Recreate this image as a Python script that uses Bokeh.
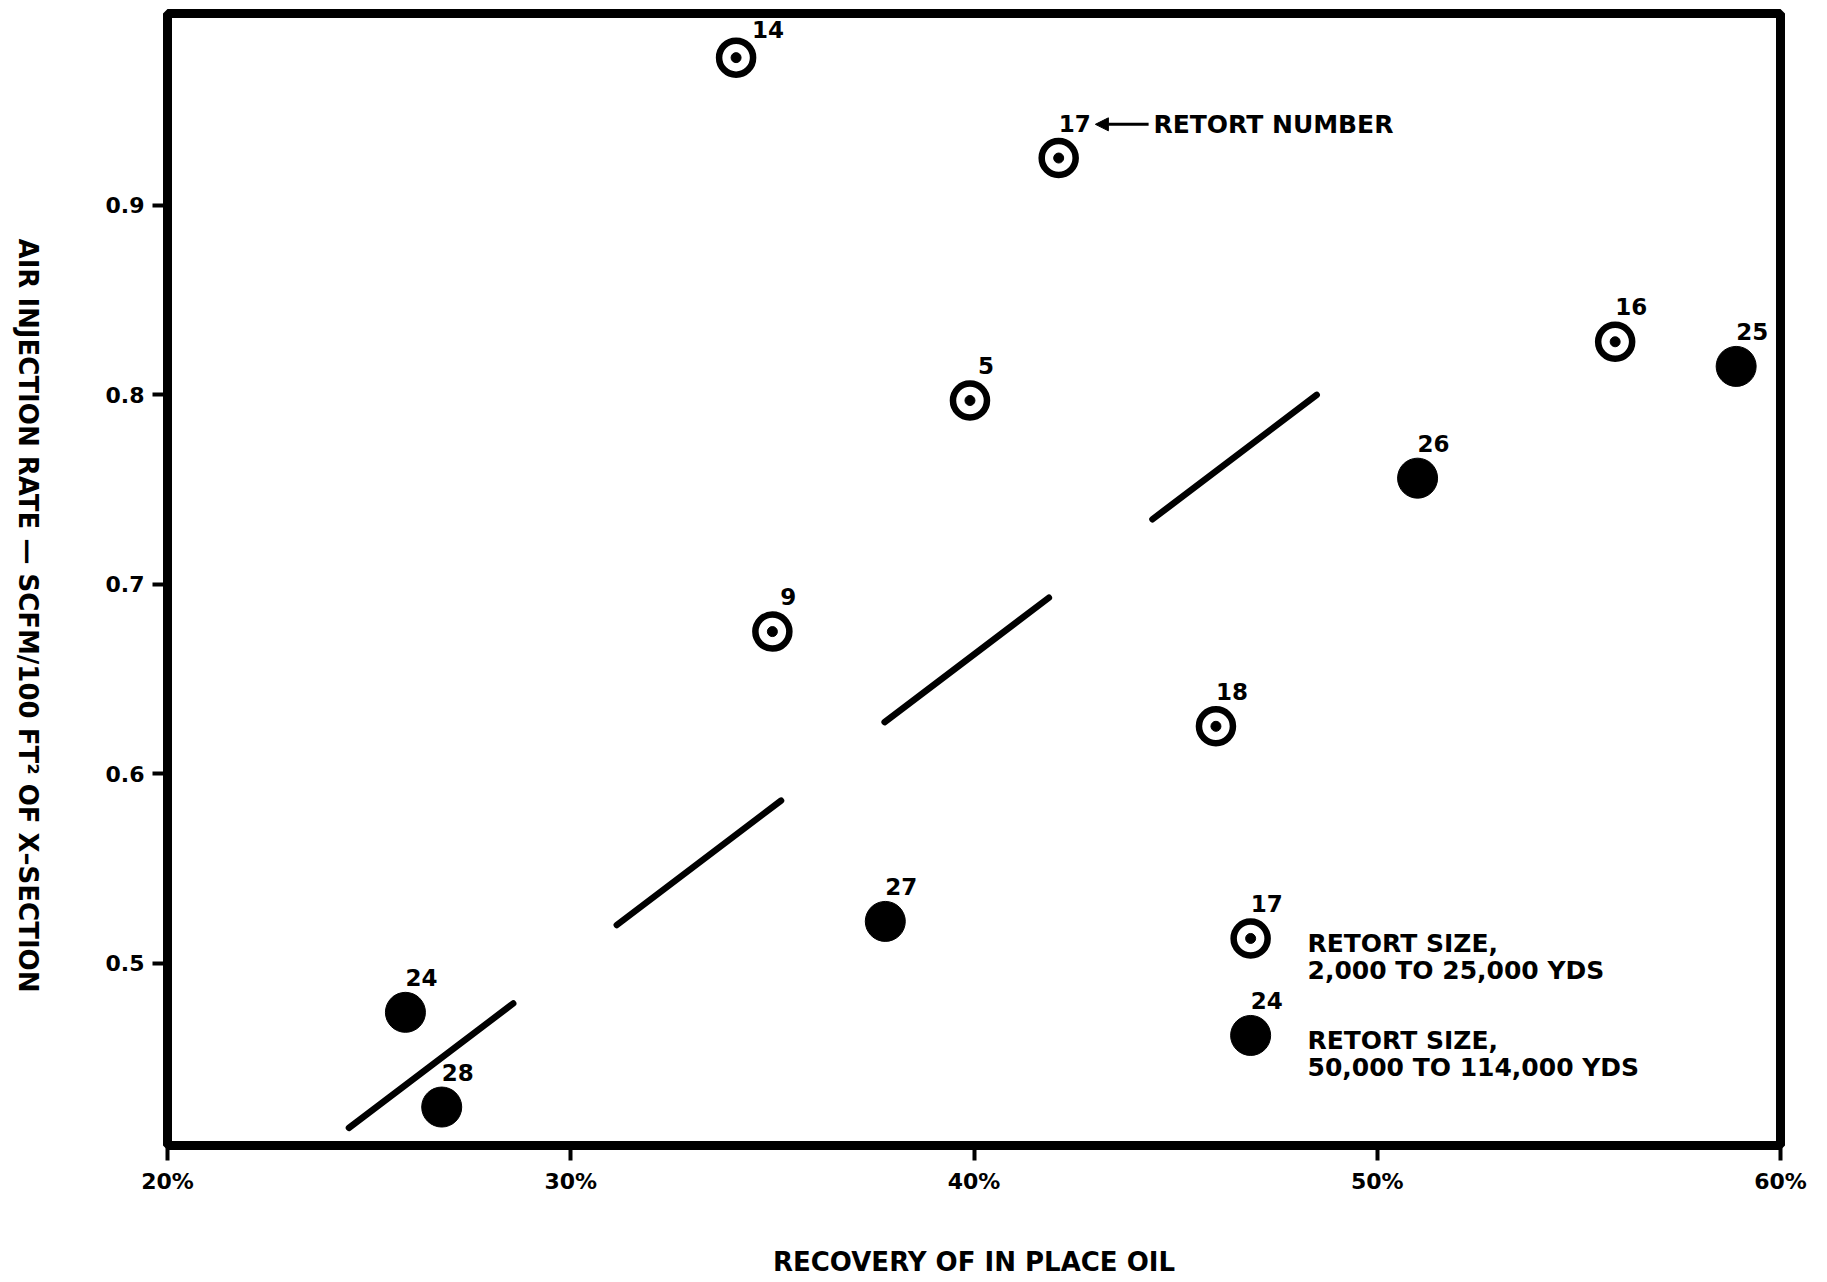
import math
from bokeh.plotting import figure
from bokeh.layouts import row
from bokeh.models import ColumnDataSource, Range1d, FixedTicker, Label, Arrow, NormalHead
from bokeh.core.properties import value
from bokeh.embed import file_html
from bokeh.resources import INLINE

# ---------------- data ----------------
# retorts of 2,000 to 25,000 yds (open bullseye markers)
small_retort = ["14", "17", "5", "9", "18", "16"]
small_recovery = [34.1, 42.1, 39.9, 35.0, 46.0, 55.9]      # % of in-place oil
small_air = [0.978, 0.925, 0.797, 0.675, 0.625, 0.828]     # SCFM/100 ft2

# retorts of 50,000 to 114,000 yds (filled markers)
large_retort = ["25", "26", "27", "24", "28"]
large_recovery = [58.9, 51.0, 37.8, 25.9, 26.8]
large_air = [0.815, 0.756, 0.522, 0.474, 0.424]

# dashed trend line
trend_recovery = [24.5, 48.5]
trend_air = [0.413, 0.800]

x_ticks = [20, 30, 40, 50, 60]
x_tick_labels = ["20%", "30%", "40%", "50%", "60%"]
y_ticks = [0.5, 0.6, 0.7, 0.8, 0.9]
y_tick_labels = ["0.5", "0.6", "0.7", "0.8", "0.9"]

legend_retort = ["17", "24"]
legend_lines = [["RETORT SIZE,", "2,000 TO 25,000 YDS"],
                ["RETORT SIZE,", "50,000 TO 114,000 YDS"]]

x_title = "RECOVERY OF IN PLACE OIL"
y_title = "AIR INJECTION RATE \u2014 SCFM/100 FT\u00b2 OF X\u2013SECTION"
pointer_text = "RETORT NUMBER"

# ---------------- styling ----------------
FONT = "DejaVu Sans"
INK = "black"
RING_SIZE, RING_W, DOT_SIZE, DISC_SIZE = 34, 6.5, 10, 40
NUM_FONT = "23px"
LBL_DX, LBL_DY = 16, -35
LBL_OVERRIDE = {"14": (32, -28)}
Y_MIN, Y_MAX = 0.4037, 1.0013
TITLE_W = 60
FIG_H = 13 + 1132 + 135

p = figure(
    frame_width=1613, frame_height=1132,
    min_border_left=167 - TITLE_W, min_border_right=35, min_border_top=13,
    min_border_bottom=135,
    x_range=Range1d(20, 60), y_range=Range1d(Y_MIN, Y_MAX),
    output_backend="svg", toolbar_location=None,
    background_fill_color="white", border_fill_color="white",
)
p.grid.visible = False
p.outline_line_color = INK
p.outline_line_width = 9

for ax in (p.xaxis[0], p.yaxis[0]):
    ax.axis_line_color = None
    ax.major_tick_line_color = INK
    ax.major_tick_line_width = 4
    ax.major_tick_in = 0
    ax.major_tick_out = 15
    ax.minor_tick_line_color = None
    ax.major_label_text_font = FONT
    ax.major_label_text_font_style = "bold"
    ax.major_label_text_font_size = "22px"
    ax.major_label_text_color = INK
    ax.major_label_standoff = 8
    ax.axis_label_text_font = FONT
    ax.axis_label_text_font_style = "bold"
    ax.axis_label_text_font_size = "26px"
    ax.axis_label_text_color = INK

p.xaxis.ticker = FixedTicker(ticks=x_ticks)
p.xaxis.major_label_overrides = dict(zip(x_ticks, x_tick_labels))
p.yaxis.ticker = FixedTicker(ticks=y_ticks)
p.yaxis.major_label_overrides = dict(zip(y_ticks, y_tick_labels))

p.xaxis.axis_label = x_title
p.xaxis.axis_label_standoff = 50

# trend line
p.line(trend_recovery, trend_air, line_color=INK, line_width=6.5,
       line_dash="206 130", line_cap="round")


def offsets(names):
    dx = [LBL_OVERRIDE.get(n, (LBL_DX, LBL_DY))[0] for n in names]
    dy = [LBL_OVERRIDE.get(n, (LBL_DX, LBL_DY))[1] for n in names]
    return dx, dy


def open_markers(src):
    p.scatter("x", "y", source=src, marker="circle", size=RING_SIZE,
              fill_color="white", line_color=INK, line_width=RING_W)
    p.scatter("x", "y", source=src, marker="circle", size=DOT_SIZE,
              fill_color=INK, line_color=INK)


def filled_markers(src):
    p.scatter("x", "y", source=src, marker="circle", size=DISC_SIZE,
              fill_color=INK, line_color=INK)


def numbers(src):
    p.text("x", "y", text="name", source=src, x_offset="dx", y_offset="dy",
           text_font=value(FONT), text_font_style="bold",
           text_font_size=NUM_FONT, text_color=INK,
           text_align="center", text_baseline="middle")


def make_src(xs, ys, names):
    dx, dy = offsets(names)
    return ColumnDataSource(dict(x=xs, y=ys, name=names, dx=dx, dy=dy))


small_src = make_src(small_recovery, small_air, small_retort)
large_src = make_src(large_recovery, large_air, large_retort)
open_markers(small_src)
filled_markers(large_src)
numbers(small_src)
numbers(large_src)

# legend (drawn inside the frame, lower right)
LEG_X = 46.86
LEG_Y = [0.513, 0.4618]
LEG_TEXT_X = 48.27
LEG_LINE_DY = [-0.0026, -0.0168]
leg_open = make_src([LEG_X], [LEG_Y[0]], [legend_retort[0]])
leg_fill = make_src([LEG_X], [LEG_Y[1]], [legend_retort[1]])
open_markers(leg_open)
filled_markers(leg_fill)
numbers(leg_open)
numbers(leg_fill)
for ly, lines in zip(LEG_Y, legend_lines):
    for dy, t in zip(LEG_LINE_DY, lines):
        p.add_layout(Label(x=LEG_TEXT_X, y=ly + dy, text=t, text_font=FONT,
                           text_font_style="bold", text_font_size="25px",
                           text_color=INK, text_align="left", text_baseline="middle"))

# "RETORT NUMBER" pointer
PTR_Y = 0.9428
p.add_layout(Arrow(end=NormalHead(size=13, fill_color=INK, line_color=INK, line_width=1),
                   x_start=44.33, y_start=PTR_Y, x_end=43.01, y_end=PTR_Y,
                   line_color=INK, line_width=3))
p.add_layout(Label(x=44.45, y=PTR_Y, text=pointer_text, text_font=FONT,
                   text_font_style="bold", text_font_size="25px", text_color=INK,
                   text_align="left", text_baseline="middle"))

# y-axis title strip (text reads top to bottom), placed left of the chart
t = figure(frame_width=TITLE_W, frame_height=FIG_H,
           min_border_left=0, min_border_right=0, min_border_top=0, min_border_bottom=0,
           x_range=Range1d(0, TITLE_W), y_range=Range1d(FIG_H, 0),
           x_axis_location=None, y_axis_location=None,
           output_backend="svg", toolbar_location=None,
           background_fill_color="white", border_fill_color="white")
t.grid.visible = False
t.outline_line_color = None
t.add_layout(Label(x=27, y=602, text=y_title, text_font=FONT, text_font_style="bold",
                   text_font_size="26px", text_color=INK, text_align="center",
                   text_baseline="middle", angle=-math.pi / 2))

layout = row(t, p, spacing=0)
open("out.html", "w").write(file_html(layout, INLINE))
